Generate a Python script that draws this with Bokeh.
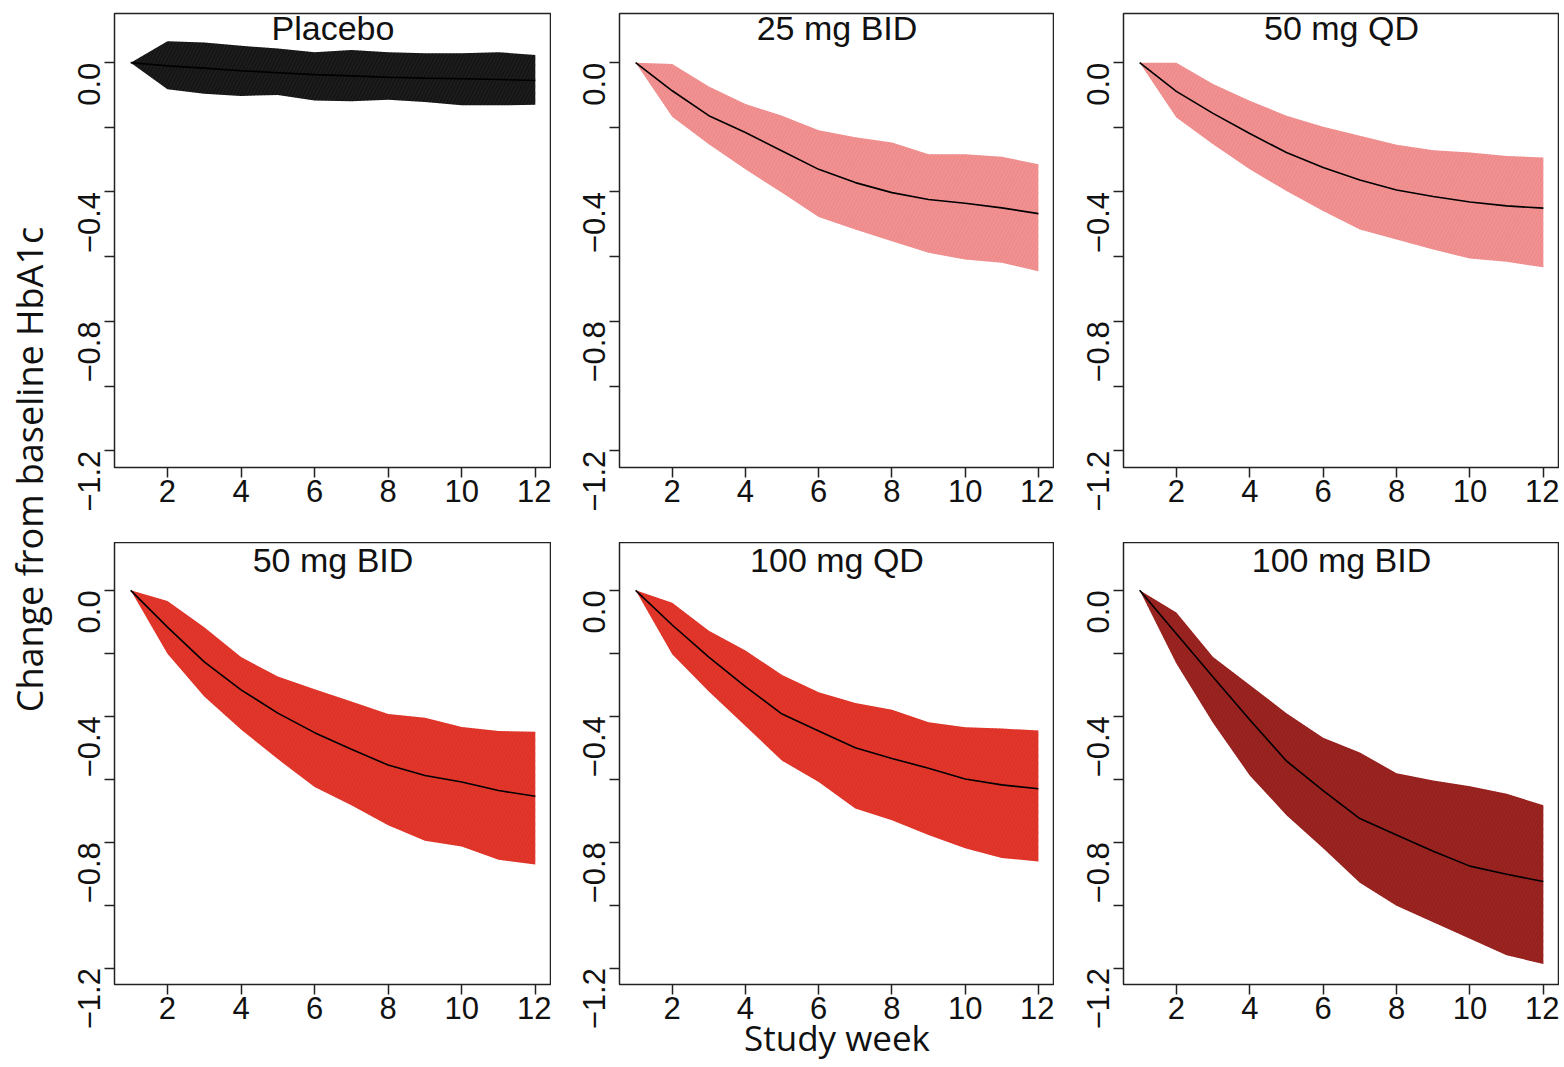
from bokeh.plotting import figure
from bokeh.layouts import row, column
from bokeh.models import Label, FixedTicker, CustomJSTickFormatter
from bokeh.embed import file_html
from bokeh.resources import INLINE
import math

weeks = [1, 2, 3, 4, 5, 6, 7, 8, 9, 10, 11, 12]

titles = ["Placebo", "25 mg BID", "50 mg QD", "50 mg BID", "100 mg QD", "100 mg BID"]

placebo_mid = [0, -0.01, -0.017, -0.025, -0.031, -0.037, -0.041, -0.045, -0.048, -0.05, -0.052, -0.055]
placebo_hi = [0, 0.066, 0.062, 0.052, 0.044, 0.032, 0.039, 0.032, 0.029, 0.029, 0.032, 0.024]
placebo_lo = [0, -0.082, -0.096, -0.103, -0.100, -0.117, -0.119, -0.115, -0.122, -0.132, -0.132, -0.130]

bid25_mid = [0, -0.087, -0.164, -0.216, -0.273, -0.330, -0.371, -0.402, -0.423, -0.435, -0.449, -0.467]
bid25_hi = [0, -0.004, -0.074, -0.128, -0.164, -0.209, -0.231, -0.247, -0.283, -0.283, -0.291, -0.314]
bid25_lo = [0, -0.167, -0.252, -0.330, -0.402, -0.477, -0.516, -0.552, -0.588, -0.609, -0.619, -0.645]

qd50_mid = [0, -0.089, -0.157, -0.219, -0.278, -0.324, -0.363, -0.394, -0.414, -0.431, -0.443, -0.450]
qd50_hi = [0, 0.0, -0.066, -0.118, -0.164, -0.198, -0.226, -0.254, -0.271, -0.278, -0.289, -0.293]
qd50_lo = [0, -0.170, -0.252, -0.330, -0.397, -0.459, -0.516, -0.547, -0.578, -0.606, -0.616, -0.633]

bid50_mid = [0, -0.117, -0.227, -0.316, -0.390, -0.452, -0.505, -0.555, -0.588, -0.609, -0.636, -0.654]
bid50_hi = [0, -0.034, -0.117, -0.212, -0.274, -0.314, -0.353, -0.393, -0.405, -0.434, -0.447, -0.449]
bid50_lo = [0, -0.201, -0.337, -0.442, -0.536, -0.625, -0.683, -0.746, -0.795, -0.814, -0.856, -0.871]

qd100_mid = [0, -0.110, -0.212, -0.306, -0.393, -0.447, -0.500, -0.534, -0.565, -0.599, -0.618, -0.630]
qd100_hi = [0, -0.039, -0.128, -0.191, -0.269, -0.324, -0.358, -0.379, -0.419, -0.435, -0.439, -0.445]
qd100_lo = [0, -0.203, -0.321, -0.431, -0.541, -0.609, -0.693, -0.730, -0.777, -0.819, -0.850, -0.861]

bid100_mid = [0, -0.138, -0.275, -0.411, -0.542, -0.636, -0.725, -0.777, -0.829, -0.876, -0.902, -0.925]
bid100_hi = [0, -0.070, -0.212, -0.301, -0.390, -0.468, -0.515, -0.581, -0.604, -0.622, -0.646, -0.683]
bid100_lo = [0, -0.232, -0.421, -0.588, -0.714, -0.819, -0.929, -1.002, -1.054, -1.107, -1.159, -1.187]

y_ticks = [0.0, -0.4, -0.8, -1.2]
y_minor = [-0.2, -0.6, -1.0]
x_ticks = [2, 4, 6, 8, 10, 12]

series = [
    (placebo_mid, placebo_hi, placebo_lo, "#1c1c1c", "#000000"),
    (bid25_mid, bid25_hi, bid25_lo, "#f29191", "#e27a7a"),
    (qd50_mid, qd50_hi, qd50_lo, "#f29191", "#e27a7a"),
    (bid50_mid, bid50_hi, bid50_lo, "#e3362b", "#c92a20"),
    (qd100_mid, qd100_hi, qd100_lo, "#e3362b", "#c92a20"),
    (bid100_mid, bid100_hi, bid100_lo, "#9b2320", "#7e1a18"),
]

TICK_FONT = "Liberation Sans"
X_RANGE = (0.56, 12.44)
Y_RANGE = (-1.252, 0.152)

fmt = CustomJSTickFormatter(code="return tick.toFixed(1).replace('-', '\u2212');")


def make_panel(idx, width, height, bl, br, bt, bb, title_y):
    mid, hi, lo, fill, hatch = series[idx]
    p = figure(width=width, height=height, x_range=X_RANGE, y_range=Y_RANGE,
               output_backend="svg", toolbar_location=None,
               min_border_left=bl, min_border_right=br,
               min_border_top=bt, min_border_bottom=bb)
    p.grid.visible = False
    p.outline_line_color = "#222222"
    p.outline_line_width = 1.5
    p.background_fill_color = "white"
    p.border_fill_color = "white"

    p.varea(x=weeks, y1=lo, y2=hi, fill_color=fill, fill_alpha=1.0,
            hatch_pattern="/", hatch_color=hatch, hatch_alpha=0.45,
            hatch_scale=7, hatch_weight=1)
    p.line(x=weeks, y=mid, line_color="black", line_width=1.6)

    xa = p.xaxis[0]
    xa.ticker = FixedTicker(ticks=x_ticks)
    ya = p.yaxis[0]
    ya.ticker = FixedTicker(ticks=y_ticks, minor_ticks=y_minor)
    ya.formatter = fmt
    ya.major_label_orientation = math.pi / 2
    for ax in (xa, ya):
        ax.axis_line_color = None
        ax.major_tick_line_color = "#222222"
        ax.major_tick_line_width = 1.5
        ax.major_tick_out = 10
        ax.major_tick_in = 0
        ax.major_label_text_font = TICK_FONT
        ax.major_label_text_font_size = "31px"
        ax.major_label_text_color = "#111111"
    xa.minor_tick_line_color = None
    ya.minor_tick_line_color = "#222222"
    ya.minor_tick_line_width = 1.5
    ya.minor_tick_out = 10
    ya.minor_tick_in = 0
    xa.major_label_standoff = 2
    ya.major_label_standoff = 15

    p.add_layout(Label(x=6.5, y=title_y, text=titles[idx], text_align="center",
                       text_baseline="middle", text_font=TICK_FONT,
                       text_font_size="34px", text_color="#111111"))
    return p


top_h = 542
bot_h = 524
p1 = make_panel(0, 497, top_h, 60, 0, 13, 75, 0.108)
p2 = make_panel(1, 503, top_h, 68, 0, 13, 75, 0.108)
p3 = make_panel(2, 505, top_h, 69, 0, 13, 75, 0.108)
p4 = make_panel(3, 497, bot_h, 60, 0, 0, 82, 0.097)
p5 = make_panel(4, 503, bot_h, 68, 0, 0, 82, 0.097)
p6 = make_panel(5, 505, bot_h, 69, 0, 0, 82, 0.097)

p5.xaxis[0].axis_label = "Study week"
p5.xaxis[0].axis_label_text_font = "Open Sans"
p5.xaxis[0].axis_label_text_font_size = "35px"
p5.xaxis[0].axis_label_text_font_style = "normal"
p5.xaxis[0].axis_label_text_color = "#111111"
p5.xaxis[0].axis_label_standoff = -8

lab_w = 54
lab = figure(width=lab_w, height=top_h + bot_h, x_range=(0, 1), y_range=(0, 1),
             output_backend="svg", toolbar_location=None,
             min_border=0, min_border_left=0, min_border_right=0,
             min_border_top=0, min_border_bottom=0)
lab.axis.visible = False
lab.grid.visible = False
lab.outline_line_color = None
lab.add_layout(Label(x=29 / lab_w, y=0.56, text="Change from baseline HbA1c", angle=math.pi / 2,
                     text_align="center", text_baseline="middle", text_font="Open Sans",
                     text_font_size="36px", text_color="#111111"))

grid = column(row(p1, p2, p3, spacing=0), row(p4, p5, p6, spacing=0), spacing=0)
layout = row(lab, grid, spacing=0)

open("out.html", "w").write(file_html(layout, INLINE))
